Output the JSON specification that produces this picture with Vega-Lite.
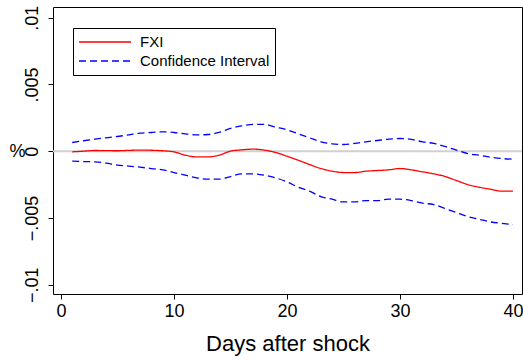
{
  "$schema": "https://vega.github.io/schema/vega-lite/v6.json",
  "width": 469,
  "height": 287,
  "autosize": {"type": "none"},
  "padding": {"left": 53, "top": 7, "right": 1, "bottom": 66},
  "background": "white",
  "config": {
    "font": "Liberation Sans",
    "view": {"stroke": "black", "strokeWidth": 1},
    "axis": {"domain": false, "grid": false, "tickColor": "black", "tickSize": 5, "labelColor": "black", "titleColor": "black", "titleFontWeight": "normal", "labelFont": "Liberation Sans", "titleFont": "Liberation Sans"}
  },
  "data": {"values": [
    {"d": 1, "fxi": -0.00005, "hi": 0.00065, "lo": -0.00075},
    {"d": 2, "fxi": 0.0, "hi": 0.00078, "lo": -0.00078},
    {"d": 3, "fxi": 0.00005, "hi": 0.0009, "lo": -0.0008},
    {"d": 4, "fxi": 0.00004, "hi": 0.001, "lo": -0.0009},
    {"d": 5, "fxi": 0.00003, "hi": 0.0011, "lo": -0.00105},
    {"d": 6, "fxi": 0.00006, "hi": 0.00122, "lo": -0.00112},
    {"d": 7, "fxi": 0.00008, "hi": 0.00135, "lo": -0.0012},
    {"d": 8, "fxi": 0.00007, "hi": 0.0014, "lo": -0.0013},
    {"d": 9, "fxi": 0.00003, "hi": 0.00145, "lo": -0.0014},
    {"d": 10, "fxi": -0.00005, "hi": 0.0014, "lo": -0.0016},
    {"d": 11, "fxi": -0.0003, "hi": 0.0013, "lo": -0.0018},
    {"d": 12, "fxi": -0.00043, "hi": 0.00122, "lo": -0.002},
    {"d": 13, "fxi": -0.00043, "hi": 0.00125, "lo": -0.0021},
    {"d": 14, "fxi": -0.0003, "hi": 0.0014, "lo": -0.0021},
    {"d": 15, "fxi": 0.0, "hi": 0.0017, "lo": -0.0019},
    {"d": 16, "fxi": 0.0001, "hi": 0.0019, "lo": -0.0017},
    {"d": 17, "fxi": 0.00015, "hi": 0.002, "lo": -0.0017},
    {"d": 18, "fxi": 0.00008, "hi": 0.002, "lo": -0.0018},
    {"d": 19, "fxi": -0.0001, "hi": 0.0018, "lo": -0.002},
    {"d": 20, "fxi": -0.00038, "hi": 0.0016, "lo": -0.0023},
    {"d": 21, "fxi": -0.00068, "hi": 0.0013, "lo": -0.0027},
    {"d": 22, "fxi": -0.001, "hi": 0.001, "lo": -0.003},
    {"d": 23, "fxi": -0.0013, "hi": 0.0007, "lo": -0.0034},
    {"d": 24, "fxi": -0.0015, "hi": 0.00055, "lo": -0.0036},
    {"d": 25, "fxi": -0.0016, "hi": 0.0005, "lo": -0.0038},
    {"d": 26, "fxi": -0.0016, "hi": 0.00058, "lo": -0.0038},
    {"d": 27, "fxi": -0.0015, "hi": 0.0007, "lo": -0.0037},
    {"d": 28, "fxi": -0.00145, "hi": 0.0008, "lo": -0.0037},
    {"d": 29, "fxi": -0.0014, "hi": 0.0009, "lo": -0.0036},
    {"d": 30, "fxi": -0.0013, "hi": 0.00095, "lo": -0.0036},
    {"d": 31, "fxi": -0.0014, "hi": 0.00088, "lo": -0.0037},
    {"d": 32, "fxi": -0.00155, "hi": 0.0007, "lo": -0.0039},
    {"d": 33, "fxi": -0.0017, "hi": 0.00058, "lo": -0.004},
    {"d": 34, "fxi": -0.0019, "hi": 0.00035, "lo": -0.0043},
    {"d": 35, "fxi": -0.0022, "hi": 0.00008, "lo": -0.0046},
    {"d": 36, "fxi": -0.0025, "hi": -0.00018, "lo": -0.0049},
    {"d": 37, "fxi": -0.0027, "hi": -0.0003, "lo": -0.0051},
    {"d": 38, "fxi": -0.00285, "hi": -0.00045, "lo": -0.0053},
    {"d": 39, "fxi": -0.003, "hi": -0.00055, "lo": -0.0054},
    {"d": 40, "fxi": -0.003, "hi": -0.0006, "lo": -0.0055}
  ]},
  "layer": [
    {
      "data": {"values": [{"z": 0}]},
      "mark": {"type": "rule", "color": "#d0d0d0", "strokeWidth": 2},
      "encoding": {"y": {"field": "z", "type": "quantitative"}}
    },
    {
      "transform": [{"fold": ["hi", "lo"], "as": ["band", "v"]}],
      "mark": {"type": "line", "interpolate": "monotone", "strokeWidth": 1.3},
      "encoding": {
        "x": {"field": "d", "type": "quantitative"},
        "y": {"field": "v", "type": "quantitative"},
        "detail": {"field": "band"},
        "color": {"datum": "Confidence Interval"},
        "strokeDash": {"datum": "Confidence Interval"}
      }
    },
    {
      "mark": {"type": "line", "interpolate": "monotone", "strokeWidth": 1.3},
      "encoding": {
        "x": {
          "field": "d", "type": "quantitative",
          "scale": {"domain": [-0.7, 40.8], "nice": false, "zero": false},
          "axis": {"values": [0, 10, 20, 30, 40], "title": "Days after shock", "labelFontSize": 18, "titleFontSize": 22, "labelPadding": 3, "titlePadding": 13}
        },
        "y": {
          "field": "fxi", "type": "quantitative",
          "scale": {"domain": [-0.0107, 0.0108], "nice": false, "zero": false},
          "axis": {"values": [-0.01, -0.005, 0, 0.005, 0.01], "title": "%", "titleAngle": 0, "titleFontSize": 18, "titleX": -36, "titleY": 144, "titleAlign": "center", "titleBaseline": "middle", "labelFontSize": 18, "labelAngle": 270, "labelPadding": 7, "labelExpr": "datum.value == 0 ? '0' : replace(format(datum.value, '.3~f'), '0.', '.')"}
        },
        "color": {
          "datum": "FXI",
          "scale": {"domain": ["FXI", "Confidence Interval"], "range": ["#ff0000", "#0000ff"]},
          "legend": {"orient": "none", "legendX": 20, "legendY": 21, "title": null, "direction": "vertical", "symbolType": "stroke", "symbolSize": 2704, "symbolStrokeWidth": 1.3, "labelFontSize": 15, "labelColor": "black", "strokeColor": "black", "fillColor": "white", "padding": 5, "clipHeight": 18, "rowPadding": 1, "labelOffset": 8}
        },
        "strokeDash": {
          "datum": "FXI",
          "scale": {"domain": ["FXI", "Confidence Interval"], "range": [[1, 0], [7, 4]]}
        }
      }
    }
  ]
}
